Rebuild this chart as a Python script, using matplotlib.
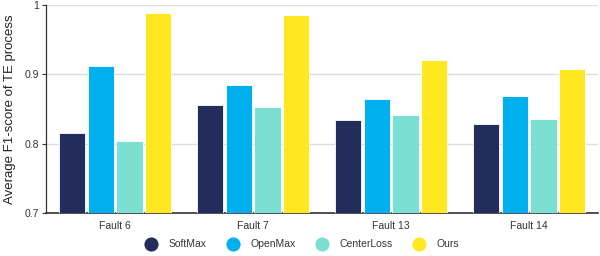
import matplotlib
matplotlib.use("Agg")
import matplotlib.pyplot as plt
import numpy as np
from matplotlib.lines import Line2D

plt.rcParams['font.family'] = ['Liberation Sans', 'DejaVu Sans']

categories = ["Fault 6", "Fault 7", "Fault 13", "Fault 14"]
methods = ["SoftMax", "OpenMax", "CenterLoss", "Ours"]
softmax = [0.815, 0.856, 0.834, 0.828]
openmax = [0.912, 0.885, 0.865, 0.869]
centerloss = [0.804, 0.853, 0.842, 0.836]
ours = [0.988, 0.986, 0.921, 0.908]
colors = ["#222D5C", "#00B0EE", "#7BDFD1", "#FFE822"]

series = [softmax, openmax, centerloss, ours]

fig = plt.figure(figsize=(6, 2.56), dpi=100)
ax = fig.add_axes([0.077, 0.168, 0.92, 0.812])

x = np.arange(len(categories))
step = 0.207
width = 0.19
for i, (vals, c) in enumerate(zip(series, colors)):
    ax.bar(x + (i - 1.5) * step, np.array(vals) - 0.7, width, bottom=0.7,
           color=c, edgecolor="white", linewidth=0.6, zorder=3)

ax.set_xlim(-0.5, 3.5)
ax.set_ylim(0.7, 1.0)
ax.set_yticks([0.7, 0.8, 0.9, 1.0])
ax.set_yticklabels(["0.7", "0.8", "0.9", "1"], fontsize=7.5, color="#333333")
ax.set_xticks(x)
ax.set_xticklabels(categories, fontsize=7.5, color="#333333")
ax.tick_params(axis='x', length=0, pad=6)
ax.tick_params(axis='y', length=3, width=0.8, color="#333333", pad=2)
ax.grid(axis='y', color="#DDDDDD", linewidth=1, zorder=0)
for s in ["top", "right"]:
    ax.spines[s].set_visible(False)
ax.spines["left"].set_color("#333333")
ax.spines["left"].set_linewidth(0.9)
ax.spines["bottom"].set_color("#333333")
ax.spines["bottom"].set_linewidth(1.2)
ax.set_ylabel("Average F1-score of TE process", fontsize=9.5, color="#222222", labelpad=6)

handles = [Line2D([0], [0], marker='o', linestyle='none', markersize=11,
                  markerfacecolor=c, markeredgecolor="white", markeredgewidth=0.8)
           for c in colors]
fig.legend(handles, methods, loc="lower center", bbox_to_anchor=(0.5, -0.01), ncol=4,
           frameon=False, fontsize=7.5, handletextpad=0.7, columnspacing=1.5,
           labelcolor="#333333")

fig.savefig("out.png", dpi=100)
